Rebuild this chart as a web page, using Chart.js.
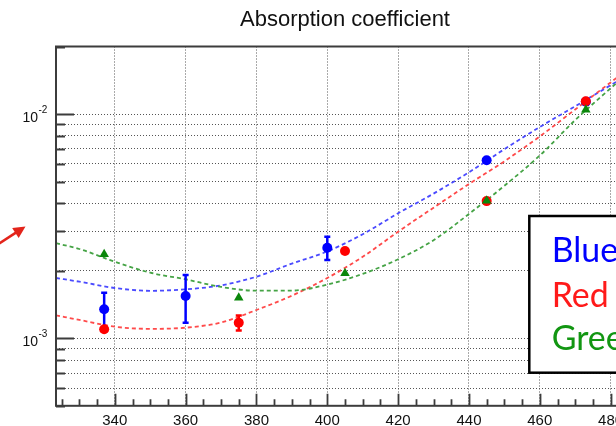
<!DOCTYPE html>
<html><head><meta charset="utf-8">
<script src="https://cdn.jsdelivr.net/npm/chart.js@4"></script>
<style>html,body{margin:0;padding:0;overflow:hidden;background:#fff}#wrap{width:690px;height:440px}</style>
</head><body><div id="wrap"><canvas id="c" width="690" height="440"></canvas></div>
<script>
// ---- data ----
const chartTitle = 'Absorption coefficient';
const legendLabels = ['Blue', 'Red', 'Green'];

const blueX = [337, 360, 400, 445, 473];
const blueY = [1.347e-3, 1.544e-3, 2.535e-3, 6.22e-3, 1.135e-2];
const blueErr = [0.25e-3, 0.37e-3, 0.30e-3, 0.12e-3, 0.2e-3];

const redX = [337, 375, 405, 445, 473];
const redY = [1.097e-3, 1.174e-3, 2.45e-3, 4.09e-3, 1.14e-2];
const redErr = [0.03e-3, 0.09e-3, 0.05e-3, 0.08e-3, 0.2e-3];

const greenX = [337, 375, 405, 445, 473];
const greenY = [2.37e-3, 1.517e-3, 1.95e-3, 4.10e-3, 1.045e-2];

const fitX = [323.4, 330, 340, 350, 360, 370, 380, 390, 400, 410, 420, 430, 440, 450, 460, 470, 480, 486.6];
const blueFit = [1.857e-3, 1.788e-3, 1.676e-3, 1.628e-3, 1.654e-3, 1.721e-3, 1.882e-3, 2.153e-3, 2.440e-3, 2.911e-3, 3.608e-3, 4.417e-3, 5.497e-3, 6.968e-3, 8.75e-3, 1.083e-2, 1.344e-2, 1.548e-2];
const redFit = [1.265e-3, 1.208e-3, 1.126e-3, 1.102e-3, 1.115e-3, 1.176e-3, 1.337e-3, 1.549e-3, 1.857e-3, 2.309e-3, 2.987e-3, 3.822e-3, 4.875e-3, 6.153e-3, 7.946e-3, 1.048e-2, 1.383e-2, 1.661e-2];
const greenFit = [2.655e-3, 2.501e-3, 2.195e-3, 1.961e-3, 1.832e-3, 1.695e-3, 1.630e-3, 1.632e-3, 1.735e-3, 1.937e-3, 2.250e-3, 2.737e-3, 3.585e-3, 4.786e-3, 6.531e-3, 9.394e-3, 1.302e-2, 1.604e-2];

const xTicks = [325, 330, 335, 340, 345, 350, 355, 360, 365, 370, 375, 380, 385, 390, 395, 400, 405, 410, 415, 420, 425, 430, 435, 440, 445, 450, 455, 460, 465, 470, 475, 480, 485];
const xLabels = [340, 360, 380, 400, 420, 440, 460, 480];
const yTicks = [5e-4, 6e-4, 7e-4, 8e-4, 9e-4, 1e-3, 2e-3, 3e-3, 4e-3, 5e-3, 6e-3, 7e-3, 8e-3, 9e-3, 1e-2, 2e-2];
const yLabels = [1e-3, 1e-2];
const yLabelExp = ['-3', '-2'];

// ---- helpers ----
const pts = (xs, ys) => xs.map((x, i) => ({ x: x, y: ys[i] }));
const FRAME = '#3c3c3c';

const rootPlugin = {
  id: 'rootStyle',
  afterDatasetDraw(chart, args) {
    const ds = chart.data.datasets[args.index];
    if (!ds.errArr) return;
    const ctx = chart.ctx, xs = chart.scales.x, ys = chart.scales.y;
    ctx.save();
    ctx.strokeStyle = ds.pointBackgroundColor;
    ctx.lineWidth = 2.5;
    ds.data.forEach((p, i) => {
      const e = ds.errArr[i];
      const px = xs.getPixelForValue(p.x);
      const yt = ys.getPixelForValue(p.y + e);
      const yb = ys.getPixelForValue(p.y - e);
      const yc = ys.getPixelForValue(p.y);
      if (yc - yt <= ds.pointRadius + 0.5) return;
      ctx.beginPath();
      ctx.moveTo(px, yt); ctx.lineTo(px, yb);
      ctx.moveTo(px - 3, yt); ctx.lineTo(px + 3, yt);
      ctx.moveTo(px - 3, yb); ctx.lineTo(px + 3, yb);
      ctx.stroke();
    });
    ctx.restore();
  },
  afterDraw(chart) {
    const ctx = chart.ctx, xs = chart.scales.x, ys = chart.scales.y, a = chart.chartArea;
    ctx.save();
    // tick marks inside the frame
    ctx.strokeStyle = FRAME;
    ctx.lineWidth = 1.8;
    ctx.beginPath();
    yTicks.forEach(v => {
      const y = Math.round(ys.getPixelForValue(v)) + 0.5;
      const len = yLabels.includes(v) ? 18 : 9;
      ctx.moveTo(a.left, y); ctx.lineTo(a.left + len, y);
    });
    xTicks.forEach(v => {
      const x = Math.round(xs.getPixelForValue(v)) + 0.5;
      const len = xLabels.includes(v) ? 12 : 6.5;
      ctx.moveTo(x, a.bottom); ctx.lineTo(x, a.bottom - len);
    });
    ctx.stroke();
    // frame
    ctx.lineWidth = 2;
    ctx.strokeRect(a.left, a.top, a.right - a.left, a.bottom - a.top);
    // y labels 10^n
    ctx.fillStyle = '#111';
    yLabels.forEach((v, i) => {
      const y = ys.getPixelForValue(v);
      ctx.font = '14px "Liberation Sans", Arial, sans-serif';
      ctx.textAlign = 'right';
      ctx.textBaseline = 'alphabetic';
      ctx.fillText('10', 38, y + 7.5);
      ctx.font = '10px "Liberation Sans", Arial, sans-serif';
      ctx.textAlign = 'left';
      ctx.fillText(yLabelExp[i], 38.5, y - 1.5);
    });
    // title
    ctx.font = '22px "Liberation Sans", Arial, sans-serif';
    ctx.textAlign = 'center';
    ctx.textBaseline = 'alphabetic';
    ctx.fillText(chartTitle, 345, 25.5);
    // legend box
    ctx.fillStyle = '#fff';
    ctx.fillRect(529.3, 216, 200, 156.7);
    ctx.strokeStyle = '#000';
    ctx.lineWidth = 2.5;
    ctx.strokeRect(529.3, 216, 200, 156.7);
    const legColors = ['#0000ff', '#ff1a1a', '#129612'];
    const legBase = [261.7, 306.7, 350];
    ctx.font = '34px Lato, "Open Sans", sans-serif';
    ctx.textAlign = 'left';
    const m = ctx.measureText('Red');
    const sx = 52 / (m.actualBoundingBoxRight + m.actualBoundingBoxLeft);
    legendLabels.forEach((t, i) => {
      ctx.save();
      ctx.translate(551.7, legBase[i]);
      ctx.scale(sx, 1);
      ctx.fillStyle = legColors[i];
      ctx.fillText(t, 0, 0);
      ctx.restore();
    });
    // red arrow at left edge
    ctx.strokeStyle = '#e3241b';
    ctx.fillStyle = '#e3241b';
    ctx.lineWidth = 2.6;
    const x0 = -4, y0 = 245.5, x1 = 25.5, y1 = 226.5;
    const ang = Math.atan2(y1 - y0, x1 - x0);
    const hl = 12, hw = 6;
    ctx.beginPath();
    ctx.moveTo(x0, y0);
    ctx.lineTo(x1 - hl * 0.8 * Math.cos(ang), y1 - hl * 0.8 * Math.sin(ang));
    ctx.stroke();
    ctx.beginPath();
    ctx.moveTo(x1, y1);
    ctx.lineTo(x1 - hl * Math.cos(ang) + hw * Math.sin(ang), y1 - hl * Math.sin(ang) - hw * Math.cos(ang));
    ctx.lineTo(x1 - hl * Math.cos(ang) - hw * Math.sin(ang), y1 - hl * Math.sin(ang) + hw * Math.cos(ang));
    ctx.closePath();
    ctx.fill();
    ctx.restore();
  }
};

new Chart(document.getElementById('c'), {
  type: 'scatter',
  data: {
    datasets: [
      { label: legendLabels[2], data: pts(greenX, greenY), order: 0, pointStyle: 'triangle', pointRadius: 5.5,
        pointBackgroundColor: '#0b870b', pointBorderColor: '#0b870b', pointBorderWidth: 0 },
      { label: legendLabels[1], data: pts(redX, redY), errArr: redErr, order: 1, pointStyle: 'circle', pointRadius: 5,
        pointBackgroundColor: '#ff0000', pointBorderColor: '#ff0000', pointBorderWidth: 0 },
      { label: legendLabels[0], data: pts(blueX, blueY), errArr: blueErr, order: 2, pointStyle: 'circle', pointRadius: 5,
        pointBackgroundColor: '#0000ff', pointBorderColor: '#0000ff', pointBorderWidth: 0 },
      { label: 'fit green', data: pts(fitX, greenFit), order: 3, showLine: true, pointRadius: 0,
        borderColor: '#45a345', borderWidth: 1.8, borderDash: [4, 3], cubicInterpolationMode: 'monotone' },
      { label: 'fit red', data: pts(fitX, redFit), order: 4, showLine: true, pointRadius: 0,
        borderColor: '#ff4a4a', borderWidth: 1.8, borderDash: [4, 3], cubicInterpolationMode: 'monotone' },
      { label: 'fit blue', data: pts(fitX, blueFit), order: 5, showLine: true, pointRadius: 0,
        borderColor: '#4a4aff', borderWidth: 1.8, borderDash: [4, 3], cubicInterpolationMode: 'monotone' }
    ]
  },
  options: {
    responsive: false,
    animation: false,
    devicePixelRatio: 1,
    layout: { padding: { top: 46.5, right: 56, bottom: 0, left: 0 } },
    plugins: { legend: { display: false }, tooltip: { enabled: false }, title: { display: false } },
    scales: {
      x: {
        type: 'linear', min: 323.4, max: 486.6,
        afterBuildTicks: s => { s.ticks = xTicks.map(v => ({ value: v })); },
        afterFit: s => { s.height = 440 - 405.8; },
        ticks: {
          autoSkip: false, maxRotation: 0, padding: 6, color: '#111',
          font: { family: '"Liberation Sans", Arial, sans-serif', size: 15 },
          callback: v => xLabels.includes(v) ? String(v) : ''
        },
        grid: { drawTicks: false, lineWidth: 1,
          color: c => (c.tick && xLabels.includes(c.tick.value)) ? '#555' : 'rgba(0,0,0,0)' },
        border: { display: false, dash: [1, 2] }
      },
      y: {
        type: 'logarithmic', min: 5e-4, max: 2e-2,
        afterBuildTicks: s => { s.ticks = yTicks.map(v => ({ value: v })); },
        afterFit: s => { s.width = 56; },
        ticks: { display: false },
        grid: { drawTicks: false, lineWidth: 1, color: '#555' },
        border: { display: false, dash: [1, 2] }
      }
    }
  },
  plugins: [rootPlugin]
});
</script>
</body></html>
